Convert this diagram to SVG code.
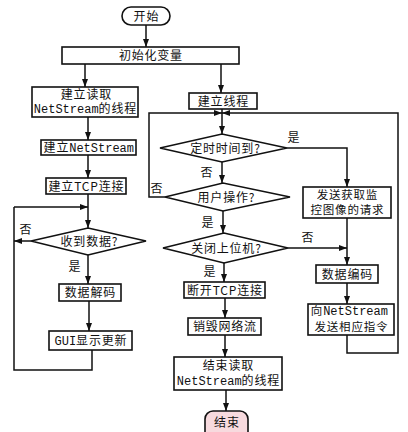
<svg xmlns="http://www.w3.org/2000/svg" width="408" height="432" viewBox="0 0 408 432">
<style>
.b{fill:#fff;stroke:#111;stroke-width:1.6}
.l{fill:none;stroke:#111;stroke-width:1.5}
text{font-family:"Noto Sans CJK SC","DejaVu Sans",sans-serif;font-size:12px;letter-spacing:0.8px;fill:#111;text-anchor:middle}
.m{font-family:"Liberation Mono","DejaVu Sans Mono",monospace;font-size:12px;letter-spacing:0}
.s{font-size:11.5px}
.lb{font-size:12px}
</style>
<defs>
<marker id="a" markerWidth="8" markerHeight="6" refX="8" refY="3" orient="auto" markerUnits="userSpaceOnUse">
<path d="M0,0 L8,3 L0,6 Z" fill="#111"/>
</marker>
</defs>
<rect width="408" height="432" fill="#fff"/>
<g id="connectors">
<path class="l" d="M146,25 V47" marker-end="url(#a)"/>
<path class="l" d="M85,64 V87" marker-end="url(#a)"/>
<path class="l" d="M221,64 V93" marker-end="url(#a)"/>
<path class="l" d="M88,117 V140" marker-end="url(#a)"/>
<path class="l" d="M88,155 V178" marker-end="url(#a)"/>
<path class="l" d="M88,194 V228" marker-end="url(#a)"/>
<path class="l" d="M14,207 H88" marker-end="url(#a)"/>
<path class="l" d="M31,241 H14" marker-end="url(#a)"/>
<path class="l" d="M88,255 V284" marker-end="url(#a)"/>
<path class="l" d="M89,301 V331" marker-end="url(#a)"/>
<path class="l" d="M92,350 V370 H14 V207"/>
<path class="l" d="M222,109 V134" marker-end="url(#a)"/>
<path class="l" d="M165,197 H149 V113 H222" marker-end="url(#a)"/>
<path class="l" d="M347,335 V353 H398 V113 H222" marker-end="url(#a)"/>
<path class="l" d="M287,148 H347 V187" marker-end="url(#a)"/>
<path class="l" d="M222,162 V183" marker-end="url(#a)"/>
<path class="l" d="M223,211 V233" marker-end="url(#a)"/>
<path class="l" d="M288,248 H347" marker-end="url(#a)"/>
<path class="l" d="M224,263 V282" marker-end="url(#a)"/>
<path class="l" d="M225,298 V318" marker-end="url(#a)"/>
<path class="l" d="M225,335 V357" marker-end="url(#a)"/>
<path class="l" d="M226,390 V411" marker-end="url(#a)"/>
<path class="l" d="M347,218 V265" marker-end="url(#a)"/>
<path class="l" d="M347,283 V304" marker-end="url(#a)"/>
<text class="lb" x="26" y="234">否</text>
<text class="lb" x="75" y="271">是</text>
<text class="lb" x="294" y="142">是</text>
<text class="lb" x="207" y="177">否</text>
<text class="lb" x="157" y="193">否</text>
<text class="lb" x="208" y="227">是</text>
<text class="lb" x="308" y="242">否</text>
<text class="lb" x="210" y="276">是</text>
</g>
<g id="start"><rect class="b" x="122" y="7" width="48" height="18" rx="9"/><text x="146.4" y="20.5">开始</text></g>
<g id="init"><rect class="b" x="62" y="47" width="177" height="17"/><text x="150.9" y="60">初始化变量</text></g>
<g id="mkReadThread"><rect class="b" x="32" y="87" width="106" height="30"/><text x="86.4" y="99">建立读取</text><text x="85.4" y="113"><tspan class="m">NetStream</tspan>的线程</text></g>
<g id="mkNetStream"><rect class="b" x="41" y="140" width="95" height="15"/><text x="88.8" y="152">建立<tspan class="m">NetStream</tspan></text></g>
<g id="mkTCP"><rect class="b" x="46" y="178" width="80" height="16"/><text x="86.4" y="190.5">建立TCP连接</text></g>
<g id="recvData"><polygon class="b" points="31,241 88,228 146,241 88,255"/><text x="89.4" y="246">收到数据?</text></g>
<g id="decode"><rect class="b" x="59" y="284" width="62" height="17"/><text x="90.4" y="297">数据解码</text></g>
<g id="gui"><rect class="b" x="49" y="331" width="83" height="19"/><text x="90.9" y="345"><tspan class="m">GUI</tspan>显示更新</text></g>
<g id="mkThread"><rect class="b" x="189" y="93" width="68" height="16"/><text x="223.4" y="105.5">建立线程</text></g>
<g id="timer"><polygon class="b" points="160,148 222,134 287,148 222,162"/><text x="225.4" y="152.5">定时时间到?</text></g>
<g id="userOp"><polygon class="b" points="165,197 223,183 290,197 223,211"/><text x="226.4" y="201.5">用户操作?</text></g>
<g id="closeHost"><polygon class="b" points="163,248 224,233 288,248 224,263"/><text x="226.4" y="252.5">关闭上位机?</text></g>
<g id="disconnect"><rect class="b" x="184" y="282" width="81" height="16"/><text x="224.9" y="294.5">断开TCP连接</text></g>
<g id="destroy"><rect class="b" x="188" y="318" width="73" height="17"/><text x="224.9" y="331">销毁网络流</text></g>
<g id="endRead"><rect class="b" x="174" y="357" width="108" height="33"/><text x="228.4" y="370">结束读取</text><text x="228.4" y="385"><tspan class="m">NetStream</tspan>的线程</text></g>
<g id="end"><rect x="205" y="411" width="43" height="30" rx="8" fill="#f7dade" stroke="#111" stroke-width="1.6"/><text x="226.9" y="427">结束</text></g>
<g id="request"><rect class="b" x="303" y="187" width="88" height="31"/><text class="s" x="347.4" y="199">发送获取监</text><text class="s" x="347.4" y="214">控图像的请求</text></g>
<g id="encode"><rect class="b" x="316" y="265" width="62" height="18"/><text x="347.4" y="278.5">数据编码</text></g>
<g id="sendCmd"><rect class="b" x="308" y="304" width="86" height="31"/><text class="s" x="349.4" y="314.5">向<tspan class="m">NetStream</tspan></text><text class="s" x="351.4" y="331">发送相应指令</text></g>
</svg>
